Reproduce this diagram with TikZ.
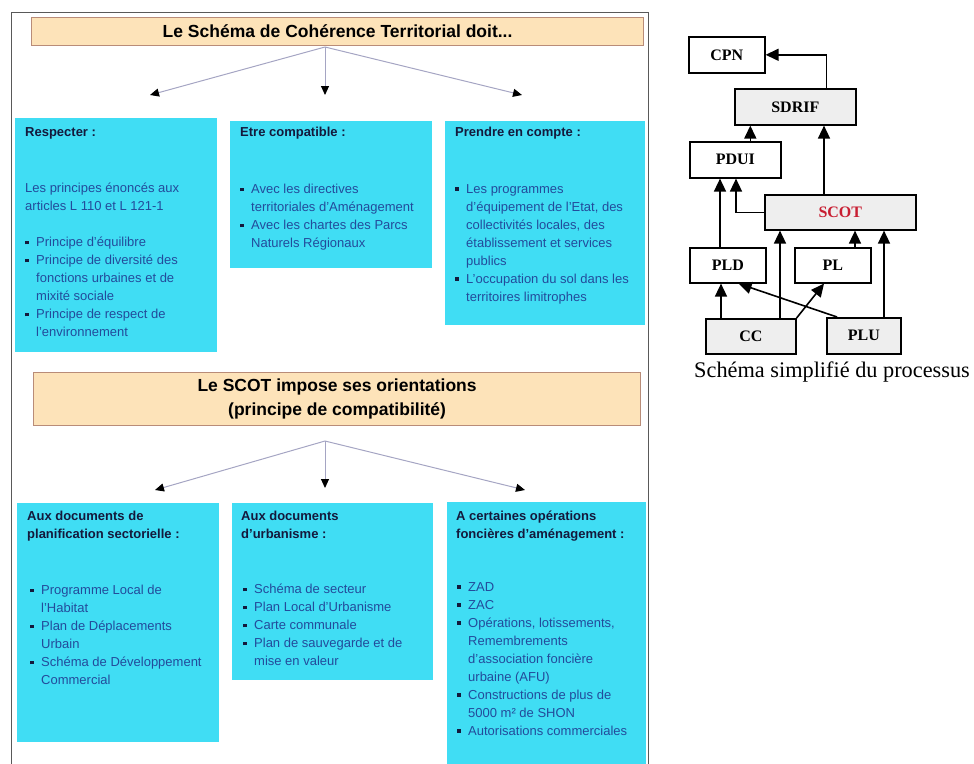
\documentclass[tikz,border=0pt]{standalone}
\usepackage{fontspec}
\setmainfont{Liberation Sans}
\newfontfamily\timesfont{Liberation Serif}
\usetikzlibrary{arrows.meta}
\definecolor{peche}{RGB}{253,227,185}
\definecolor{pechebord}{RGB}{185,140,120}
\definecolor{cyanfond}{RGB}{64,221,244}
\definecolor{encre}{RGB}{20,25,60}
\definecolor{bleutexte}{RGB}{35,75,155}
\definecolor{lavande}{RGB}{165,165,195}
\definecolor{grisclair}{RGB}{238,238,238}
\definecolor{rouge}{RGB}{200,30,50}
% square bullet and the indent of a continued line
\newcommand{\puce}{\makebox[11pt][l]{\textcolor{encre}{\rule[2.5pt]{3.4pt}{3.4pt}}}}
\newcommand{\suite}{\hspace*{11pt}}

\begin{document}
\begin{tikzpicture}[x=1pt,y=-1pt,
  entete/.style={draw=pechebord,line width=1.2pt,fill=peche,anchor=north west,inner sep=0,align=center,font=\fontsize{17.5}{24}\selectfont\bfseries},
  cadre/.style={fill=cyanfond,anchor=north west,inner sep=0},
  titre/.style={anchor=north west,inner sep=0,align=left,text=encre,font=\fontsize{13}{18}\selectfont\bfseries},
  corps/.style={anchor=north west,inner sep=0,align=left,text=bleutexte,font=\fontsize{13}{18}\selectfont},
  branche/.style={draw=lavande,line width=1pt,-{Triangle[length=9pt,width=8pt,black]}},
  doc/.style={draw,line width=1.6pt,anchor=north west,inner sep=0,font=\timesfont\bfseries\fontsize{16}{18}\selectfont},
  lien/.style={line width=1.6pt,-{Triangle[length=13pt,width=12pt]}}]
\useasboundingbox (0,0) rectangle (974,763);

% Left panel frame (open at the bottom)
\draw[black!65,line width=1pt] (11,770) -- (11,12) -- (648,12) -- (648,770);

% First header and its three branches
\node[entete,minimum width=612pt,minimum height=28pt] (h1) at (31,17) {Le Schéma de Cohérence Territorial doit...};
\coordinate (a1) at (325,47);
\coordinate (g1) at (150,95);
\coordinate (m1) at (325,95);
\coordinate (d1) at (522,95);
\foreach \e in {g1,m1,d1} \draw[branche] (a1) -- (\e);

% Row 1
\node[cadre,minimum width=202pt,minimum height=234pt] (c1) at (15,118) {};
\node[cadre,minimum width=202pt,minimum height=147pt] (c2) at (230,121) {};
\node[cadre,minimum width=200pt,minimum height=204pt] (c3) at (445,121) {};

\node[titre] (t1) at (25,127) {Respecter :};
\node[corps] (b1) at (25,183) {Les principes énoncés aux\\articles L 110 et L 121-1\\[18pt]
  \puce Principe d'équilibre\\\puce Principe de diversité des\\\suite fonctions urbaines et de\\\suite mixité sociale\\
  \puce Principe de respect de\\\suite l'environnement};

\node[titre] (t2) at (240,127) {Etre compatible :};
\node[corps] (b2) at (240,184) {\puce Avec les directives\\\suite territoriales d'Aménagement\\
  \puce Avec les chartes des Parcs\\\suite Naturels Régionaux};

\node[titre] (t3) at (455,127) {Prendre en compte :};
\node[corps] (b3) at (455,184) {\puce Les programmes\\\suite d'équipement de l'Etat, des\\\suite collectivités locales, des\\
  \suite établissement et services\\\suite publics\\\puce L'occupation du sol dans les\\\suite territoires limitrophes};

% Second header and its branches
\node[entete,minimum width=607pt,minimum height=53pt] (h2) at (33,372)
  {Le SCOT impose ses orientations\\(principe de compatibilité)};
\coordinate (a2) at (325,441);
\coordinate (g2) at (155,490);
\coordinate (m2) at (325,488);
\coordinate (d2) at (525,490);
\foreach \e in {g2,m2,d2} \draw[branche] (a2) -- (\e);

% Row 2
\node[cadre,minimum width=202pt,minimum height=239pt] (c4) at (17,503) {};
\node[cadre,minimum width=201pt,minimum height=177pt] (c5) at (232,503) {};
\node[cadre,minimum width=199pt,minimum height=270pt] (c6) at (447,502) {};

\node[titre] (t4) at (27,511) {Aux documents de\\planification sectorielle :};
\node[corps] (b4) at (30,585) {\puce Programme Local de\\\suite l'Habitat\\\puce Plan de Déplacements\\\suite Urbain\\
  \puce Schéma de Développement\\\suite Commercial};

\node[titre] (t5) at (241,511) {Aux documents\\d'urbanisme :};
\node[corps] (b5) at (243,584) {\puce Schéma de secteur\\\puce Plan Local d'Urbanisme\\\puce Carte communale\\
  \puce Plan de sauvegarde et de\\\suite mise en valeur};

\node[titre] (t6) at (456,511) {A certaines opérations\\foncières d'aménagement :};
\node[corps] (b6) at (457,582) {\puce ZAD\\\puce ZAC\\\puce Opérations, lotissements,\\\suite Remembrements\\
  \suite d'association foncière\\\suite urbaine (AFU)\\\puce Constructions de plus de\\\suite 5000 m² de SHON\\
  \puce Autorisations commerciales};

% Right: simplified process
\node[doc,minimum width=76pt,minimum height=36pt] (cpn) at (688,36) {CPN};
\node[doc,fill=grisclair,minimum width=121pt,minimum height=36pt] (sdrif) at (734,88) {SDRIF};
\node[doc,minimum width=91pt,minimum height=36pt] (pdui) at (689,141) {PDUI};
\node[doc,fill=grisclair,text=rouge,minimum width=151pt,minimum height=35pt] (scot) at (764,194) {SCOT};
\node[doc,minimum width=76pt,minimum height=35pt] (pld) at (689,247) {PLD};
\node[doc,minimum width=76pt,minimum height=35pt] (pl) at (794,247) {PL};
\node[doc,fill=grisclair,minimum width=90pt,minimum height=35pt] (cc) at (705,318) {CC};
\node[doc,fill=grisclair,minimum width=74pt,minimum height=36pt] (plu) at (826,317) {PLU};

\draw[lien] ([xshift=-30pt]sdrif.north east) |- (cpn.east);
\draw[lien] ([xshift=15pt]pdui.north) -- ([xshift=15pt]pdui.north |- sdrif.south);
\draw[lien] ([xshift=60pt]scot.north west) -- ([xshift=60pt]scot.north west |- sdrif.south);
\draw[lien] ([xshift=31pt]pld.north west) -- ([xshift=31pt]pld.north west |- pdui.south);
\draw[lien] (scot.west) -| ([xshift=47pt]pdui.south west);
\draw[lien] ([xshift=16pt]cc.north west) -- ([xshift=16pt]cc.north west |- pld.south);
\draw[lien] ([xshift=75pt]cc.north west) -- ([xshift=75pt]cc.north west |- scot.south);
\draw[lien] (cc.north east) -- ([xshift=30pt]pl.south west);
\draw[lien] ([xshift=11pt]plu.north west) -- ([xshift=-28pt]pld.south east);
\draw[lien] ([xshift=61pt]pl.north west) -- ([xshift=61pt]pl.north west |- scot.south);
\draw[lien] ([xshift=58pt]plu.north west) -- ([xshift=58pt]plu.north west |- scot.south);

\node[font=\timesfont\fontsize{22.3}{26}\selectfont,inner sep=0] (legende) at (832,372) {Schéma simplifié du processus};
\end{tikzpicture}
\end{document}
